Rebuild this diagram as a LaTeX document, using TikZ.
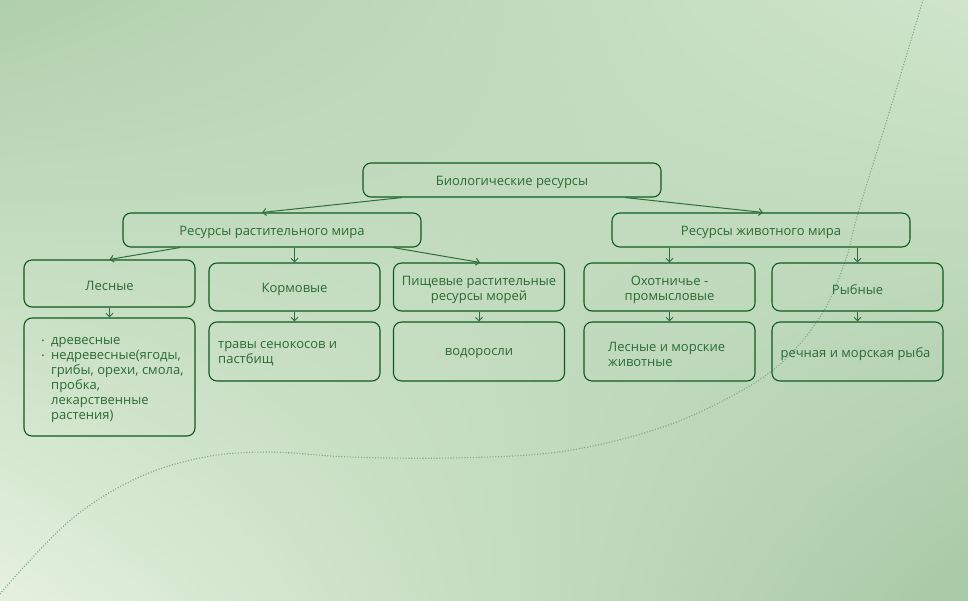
\documentclass[tikz,border=0pt]{standalone}
\usepackage{fontspec}
\setmainfont{Open Sans}
\usetikzlibrary{arrows.meta,calc,shadings}
\definecolor{lineg}{HTML}{0E5A1F}
\definecolor{textg}{HTML}{2A6A35}
\definecolor{arrg}{HTML}{2F6E3A}
\definecolor{dotg}{HTML}{80A988}
\definecolor{bgUL}{HTML}{B0CFAC}
\definecolor{bgUR}{HTML}{D0E5CC}
\definecolor{bgLL}{HTML}{E4F1DE}
\definecolor{bgLR}{HTML}{A8C9A5}
\newcommand{\fsz}{\fontsize{13}{15}\selectfont}
\newcommand{\bul}{\makebox[9.5pt][l]{\raisebox{1pt}{\fontsize{7.5}{7.5}\selectfont\textbullet}}}
\tikzset{
  lbl/.style={text=textg, font=\fsz, align=center, inner sep=0pt, yshift=-2.5pt},
  box/.style={draw=lineg, line width=1.1pt, rounded corners=8pt, inner sep=0pt},
  wbox/.style={box, minimum width=298pt, minimum height=34pt},
  sbox/.style={box, minimum width=171pt, minimum height=48pt},
  tbox/.style={box, minimum width=171pt, minimum height=59pt},
  ltxt/.style={anchor=west, inner sep=0pt, text=textg, font=\fsz, align=left},
  arr/.style={draw=arrg, line width=1pt, -{Straight Barb[length=3.5pt,width=7pt]}},
  dotline/.style={draw=dotg, line width=1.1pt, dash pattern=on 1.1pt off 1.7pt}
}
\begin{document}
\begin{tikzpicture}[x=1pt,y=-1pt]
\shade[upper left=bgUL, upper right=bgUR, lower left=bgLL, lower right=bgLR] (0,0) rectangle (968,600);
\useasboundingbox (0,0) rectangle (968,600);
% dotted curve
\draw[dotline] plot[smooth, tension=0.6] coordinates {(-2,596) (67,523) (133,480) (200,458) (267,452) (350,457) (450,458) (550,453) (630,437) (700,412) (773,370) (820,317) (845,262) (858,213) (893,100) (926,-10)};
% nodes
\node[wbox, label={[lbl]center:Биологические ресурсы}] (top) at (512,180) {};
\node[wbox, label={[lbl]center:Ресурсы растительного мира}] (rast) at (272,230) {};
\node[wbox, label={[lbl]center:Ресурсы животного мира}] (zhiv) at (761,230) {};
\node[sbox, minimum height=47pt, label={[lbl]center:Лесные}] (les) at (109.5,283.5) {};
\node[sbox, label={[lbl]center:Кормовые}] (korm) at (294.5,287) {};
\node[sbox, label={[lbl]center:{Пищевые растительные\\ресурсы морей}}] (pish) at (479,287) {};
\node[sbox, label={[lbl]center:{Охотничье -\\промысловые}}] (ohot) at (669.5,287) {};
\node[sbox, label={[lbl]center:Рыбные}] (ryb) at (857.5,287) {};
\node[box, minimum width=171pt, minimum height=118pt] (les2) at (109.5,377) {};
\node[tbox] (korm2) at (294.5,351.5) {};
\node[tbox, label={[lbl]center:водоросли}] (pish2) at (479,351.5) {};
\node[tbox] (ohot2) at (669.5,351.5) {};
\node[tbox, label={[lbl, xshift=-2pt]center:речная и морская рыба}] (ryb2) at (857.5,351.5) {};
% inner left-aligned texts
\node[ltxt] (lestxt) at (41.5,380)
  {\bul древесные\\
   \bul недревесные(ягоды,\\
   \hspace*{9.5pt}грибы, орехи, смола,\\
   \hspace*{9.5pt}пробка,\\
   \hspace*{9.5pt}лекарственные\\
   \hspace*{9.5pt}растения)};
\node[ltxt] (kormtxt) at (218,354) {травы сенокосов и\\пастбищ};
\node[ltxt] (ohottxt) at (608,354) {Лесные и морские\\животные};
% arrows
\draw[arr] ([xshift=-110pt]top.south) -- ([xshift=-10pt]rast.north);
\draw[arr] ([xshift=113pt]top.south) -- ([xshift=2pt]zhiv.north);
\draw[arr] ([xshift=-92pt]rast.south) -- (les.north);
\draw[arr] ([xshift=22.5pt]rast.south) -- (korm.north);
\draw[arr] ([xshift=121pt]rast.south) -- ([xshift=1pt]pish.north);
\draw[arr] ([xshift=-91.5pt]zhiv.south) -- (ohot.north);
\draw[arr] ([xshift=96.5pt]zhiv.south) -- (ryb.north);
\draw[arr] (les.south) -- (les2.north);
\draw[arr] (korm.south) -- (korm2.north);
\draw[arr] (pish.south) -- (pish2.north);
\draw[arr] (ohot.south) -- (ohot2.north);
\draw[arr] (ryb.south) -- (ryb2.north);
\end{tikzpicture}
\end{document}
